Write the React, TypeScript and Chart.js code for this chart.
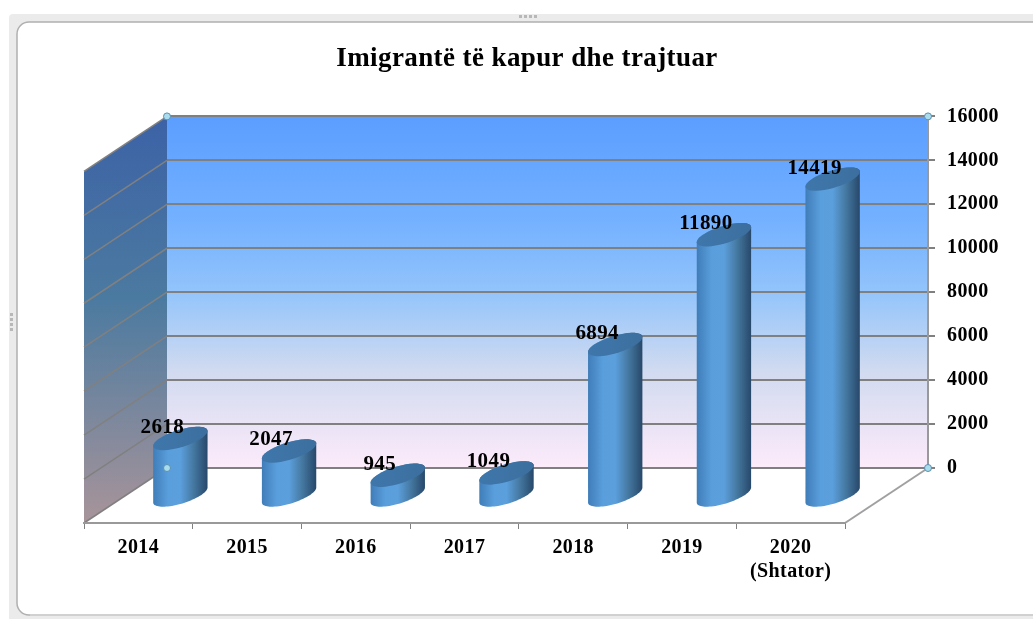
import React, { useEffect, useRef } from "react";
import { Chart, registerables } from "chart.js";

Chart.register(...registerables);

const TITLE = "Imigrantë të kapur dhe trajtuar";
const CATEGORIES: (string | string[])[] = ["2014", "2015", "2016", "2017", "2018", "2019", ["2020", "(Shtator)"]];
const IMMIGRANTS = [2618, 2047, 945, 1049, 6894, 11890, 14419];
const Y_MAX = 16000;
const Y_STEP = 2000;

const SERIF = "'Liberation Serif', serif";
const DEPTH_X = -83;
const DEPTH_Y = 55;
const BAR_DX = 42;
const BAR_DY = 28;

function ellipsePoint(cx: number, cy: number, a: number, b: number, k: number, t: number) {
  return [cx + a * Math.cos(t), cy + b * Math.sin(t) - k * Math.cos(t)];
}

function traceArc(ctx: CanvasRenderingContext2D, cx: number, cy: number, a: number, b: number, k: number, t0: number, t1: number, start: boolean) {
  const n = 40;
  for (let i = 0; i <= n; i++) {
    const [x, y] = ellipsePoint(cx, cy, a, b, k, t0 + ((t1 - t0) * i) / n);
    if (i === 0 && start) ctx.moveTo(x, y);
    else ctx.lineTo(x, y);
  }
}

function drawCylinder(this: any, ctx: CanvasRenderingContext2D) {
  const cx = this.x + BAR_DX;
  const top = this.y + BAR_DY;
  const base = this.base + BAR_DY;
  const a = this.width / 2;
  const b = 9;
  const k = 7.5;
  ctx.save();
  const g = ctx.createLinearGradient(cx - a, 0, cx + a, 0);
  g.addColorStop(0, "#3f7db8");
  g.addColorStop(0.28, "#5a9fdd");
  g.addColorStop(0.5, "#5b9fdc");
  g.addColorStop(0.75, "#44779f");
  g.addColorStop(1, "#27486a");
  ctx.beginPath();
  traceArc(ctx, cx, top, a, b, k, -Math.PI, 0, true);
  traceArc(ctx, cx, base, a, b, k, 0, Math.PI, false);
  ctx.closePath();
  ctx.fillStyle = g;
  ctx.fill();
  const capG = ctx.createLinearGradient(cx - a, 0, cx + a, 0);
  capG.addColorStop(0, "#3f77ab");
  capG.addColorStop(1, "#3c6f9f");
  ctx.beginPath();
  traceArc(ctx, cx, top, a, b, k, 0, Math.PI * 2, true);
  ctx.closePath();
  ctx.fillStyle = capG;
  ctx.fill();
  ctx.restore();
}

function handle(ctx: CanvasRenderingContext2D, x: number, y: number) {
  ctx.beginPath();
  ctx.arc(x, y, 3.5, 0, Math.PI * 2);
  ctx.fillStyle = "#a9dcec";
  ctx.fill();
  ctx.lineWidth = 1;
  ctx.strokeStyle = "#5b8fb0";
  ctx.stroke();
}

function frame(ctx: CanvasRenderingContext2D, width: number, height: number) {
  ctx.fillStyle = "#ffffff";
  ctx.fillRect(0, 0, width, height);
  ctx.beginPath();
  ctx.roundRect(9, 14, 1060, 640, 4);
  ctx.fillStyle = "#ebebeb";
  ctx.fill();
  ctx.beginPath();
  ctx.roundRect(17, 22, 1040, 593, 12);
  ctx.fillStyle = "#ffffff";
  ctx.fill();
  ctx.strokeStyle = "#b0b0b0";
  ctx.lineWidth = 1.5;
  ctx.stroke();
  ctx.strokeStyle = "#d6d6d6";
  ctx.beginPath();
  ctx.moveTo(30, 615);
  ctx.lineTo(1033, 615);
  ctx.stroke();
  ctx.fillStyle = "#b8b8b8";
  for (let i = 0; i < 4; i++) {
    ctx.fillRect(519 + i * 5, 15, 3, 3);
    ctx.fillRect(10, 313 + i * 5, 3, 3);
  }
}

const scene3d = {
  id: "scene3d",
  afterLayout(chart: any) {
    const xs = chart.scales.x;
    xs.left += DEPTH_X;
    xs.right += DEPTH_X;
    xs.top += DEPTH_Y;
    xs.bottom += DEPTH_Y;
    xs.configure();
    if (chart.titleBlock) {
      chart.titleBlock.left = 21;
      chart.titleBlock.right = 1033;
    }
  },
  afterDatasetsUpdate(chart: any) {
    chart.getDatasetMeta(0).data.forEach((el: any) => {
      el.draw = drawCylinder;
    });
  },
  beforeDraw(chart: any) {
    const { ctx, width, height, chartArea: a } = chart;
    const ys = chart.scales.y;
    ctx.letterSpacing = "0.4px";
    ctx.save();
    frame(ctx, width, height);
    const wall = ctx.createLinearGradient(0, a.top, 0, a.bottom);
    wall.addColorStop(0, "#5b9eff");
    wall.addColorStop(0.3, "#74b1ff");
    wall.addColorStop(0.5, "#93c4fb");
    wall.addColorStop(0.72, "#d0daf0");
    wall.addColorStop(1, "#fdebfa");
    ctx.fillStyle = wall;
    ctx.fillRect(a.left, a.top, a.right - a.left, a.bottom - a.top);
    const side = ctx.createLinearGradient(0, a.top, 0, a.bottom + DEPTH_Y);
    side.addColorStop(0, "#3c62a6");
    side.addColorStop(0.45, "#4b7aa0");
    side.addColorStop(1, "#a8949a");
    ctx.beginPath();
    ctx.moveTo(a.left, a.top);
    ctx.lineTo(a.left, a.bottom);
    ctx.lineTo(a.left + DEPTH_X, a.bottom + DEPTH_Y);
    ctx.lineTo(a.left + DEPTH_X, a.top + DEPTH_Y);
    ctx.closePath();
    ctx.fillStyle = side;
    ctx.fill();
    ctx.strokeStyle = "#808080";
    ctx.lineWidth = 1.5;
    for (let v = 0; v <= Y_MAX; v += Y_STEP) {
      const y = ys.getPixelForValue(v);
      ctx.beginPath();
      ctx.moveTo(a.left, y);
      ctx.lineTo(a.left + DEPTH_X, y + DEPTH_Y);
      ctx.stroke();
    }
    ctx.beginPath();
    ctx.moveTo(a.right, a.bottom);
    ctx.lineTo(a.right + DEPTH_X, a.bottom + DEPTH_Y);
    ctx.strokeStyle = "#a0a0a0";
    ctx.lineWidth = 2;
    ctx.stroke();
    ctx.restore();
  },
  afterDatasetsDraw(chart: any) {
    const { ctx } = chart;
    const meta = chart.getDatasetMeta(0);
    ctx.save();
    ctx.fillStyle = "#000000";
    ctx.textAlign = "center";
    ctx.textBaseline = "middle";
    ctx.font = `bold 21px ${SERIF}`;
    meta.data.forEach((el: any, i: number) => {
      ctx.fillText(String(IMMIGRANTS[i]), el.x + BAR_DX - 18, el.y + BAR_DY - 11);
    });
    const area = chart.chartArea;
    handle(ctx, area.left, area.top);
    handle(ctx, area.right, area.top);
    handle(ctx, area.right, area.bottom);
    handle(ctx, area.left, area.bottom);
    ctx.restore();
  },
};

export default function App() {
  const ref = useRef<HTMLCanvasElement>(null);
  useEffect(() => {
    document.body.style.margin = "0";
    const chart = new Chart(ref.current as HTMLCanvasElement, {
      type: "bar",
      data: {
        labels: CATEGORIES as any,
        datasets: [
          {
            label: "Imigrantë",
            data: IMMIGRANTS,
            backgroundColor: "#5a9fdd",
            categoryPercentage: 1,
            barPercentage: 0.5,
            clip: false as any,
          },
        ],
      },
      options: {
        responsive: false,
        animation: false,
        layout: { padding: { left: 167, top: 0, right: 0, bottom: 51 } },
        plugins: {
          legend: { display: false },
          tooltip: { enabled: false },
          title: {
            display: true,
            text: TITLE,
            color: "#000000",
            font: { family: SERIF, size: 27, weight: "bold" },
            padding: { top: 43, bottom: 41 },
          },
        },
        scales: {
          x: {
            type: "category",
            position: "bottom",
            afterFit(s: any) {
              s.height = 100;
            },
            grid: { drawOnChartArea: false, drawTicks: true, tickLength: 6, color: "#808080", offset: true },
            border: { color: "#999999", width: 2 },
            ticks: {
              color: "#000000",
              font: { family: SERIF, size: 20, weight: "bold" },
              maxRotation: 0,
              autoSkip: false,
              padding: 7,
            },
          },
          y: {
            type: "linear",
            position: "right",
            min: 0,
            max: Y_MAX,
            afterFit(s: any) {
              s.width = 105;
            },
            ticks: {
              stepSize: Y_STEP,
              color: "#000000",
              padding: 12,
              format: { useGrouping: false },
              font: { family: SERIF, size: 20, weight: "bold" },
            },
            grid: { color: "#808080", lineWidth: 2, tickLength: 7, drawTicks: true },
            border: { color: "#999999", width: 2 },
          },
        },
      },
      plugins: [scene3d],
    } as any);
    return () => chart.destroy();
  }, []);
  return <canvas ref={ref} width={1033} height={619} style={{ display: "block" }} />;
}
